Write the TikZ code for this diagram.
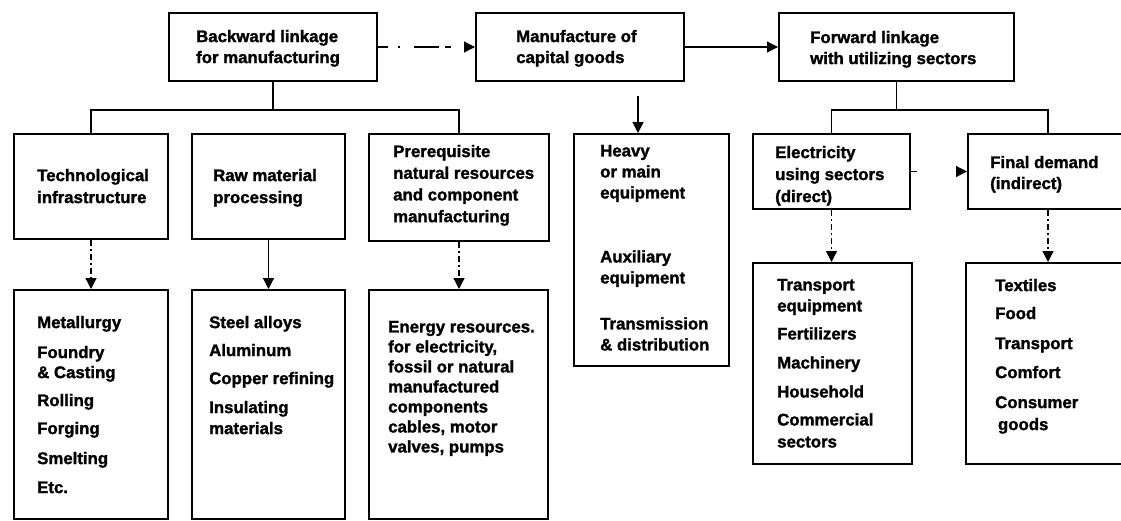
\documentclass[tikz,border=0pt]{standalone}
\usepackage{fontspec}
\setmainfont{Liberation Sans}[BoldFeatures={FakeBold=1.5}]
\usetikzlibrary{arrows.meta,calc}
\begin{document}
\begin{tikzpicture}[x=1pt,y=-1pt,
  box/.style={draw, line width=2pt, inner sep=0pt, anchor=north west},
  txt/.style={anchor=north west, inner sep=0pt, align=left, font=\fontsize{16.8}{21}\selectfont\bfseries},
  tip/.style={-{Triangle[length=11pt,width=11pt]}},
  conn/.style={line width=1.2pt},
  dsh/.style={conn, dash pattern=on 6pt off 3pt on 2pt off 3pt},
  dashdotted/.style={conn, dash pattern=on 10pt off 10pt on 2pt off 14pt on 25pt off 6pt on 6pt off 50pt},
  faint/.style={conn, dash pattern=on 6pt off 100pt}
]
\clip (0,0) rectangle (1121,520);
\fill[white] (0,0) rectangle (1121,520);

% top row
\node[box, minimum width=208pt, minimum height=68pt] (bw) at (168,12) {};
\node[box, minimum width=208pt, minimum height=68pt] (mf) at (475,12) {};
\node[box, minimum width=235pt, minimum height=68pt] (fw) at (778,12) {};
\node[txt] (bwt) at (196,29.7) {Backward linkage\\for manufacturing};
\node[txt] (mft) at (516,29.7) {Manufacture of\\capital goods};
\node[txt] (fwt) at (810,30.7) {Forward linkage\\with utilizing sectors};

% second row
\node[box, minimum width=154pt, minimum height=105pt] (tech) at (13,133) {};
\node[box, minimum width=153pt, minimum height=105pt] (raw) at (191,133) {};
\node[box, minimum width=180pt, minimum height=107pt] (pre) at (368,133) {};
\node[box, minimum width=155pt, minimum height=232pt] (heavy) at (573,133) {};
\node[box, minimum width=157pt, minimum height=75pt] (elec) at (752,133) {};
\node[box, minimum width=170pt, minimum height=75pt] (fin) at (967,133) {};

\node[txt] (techt) at (37,168.7) {Technological\\[1pt]infrastructure};
\node[txt] (rawt) at (213,168.7) {Raw material\\[1pt]processing};
\node[txt] (pret) at (393,144.7) {Prerequisite\\[0.7pt]natural resources\\[0.7pt]and component\\[0.7pt]manufacturing};
\node[txt] (heavyt) at (600,144.7) {Heavy\\or main\\equipment\\[43pt]Auxiliary\\equipment\\[25pt]Transmission\\\& distribution};
\node[txt] (elect) at (775,145.7) {Electricity\\[1pt]using sectors\\[1pt](direct)};
\node[txt] (fint) at (990,155.7) {Final demand\\(indirect)};

% third row
\node[box, minimum width=154pt, minimum height=229pt] (met) at (13,289) {};
\node[box, minimum width=153pt, minimum height=229pt] (steel) at (191,289) {};
\node[box, minimum width=179pt, minimum height=229pt] (energy) at (368,289) {};
\node[box, minimum width=159pt, minimum height=201pt] (trans) at (752,262) {};
\node[box, minimum width=170pt, minimum height=201pt] (tex) at (965,262) {};

\node[txt] (mett) at (37,315.7) {Metallurgy\\[9pt]Foundry\\[-1pt]\& Casting\\[7pt]Rolling\\[7pt]Forging\\[9pt]Smelting\\[8pt]Etc.};
\node[txt] (steelt) at (209,315.7) {Steel alloys\\[7pt]Aluminum\\[7pt]Copper refining\\[8pt]Insulating\\materials};
\node[txt] (energyt) at (388,320.7) {Energy resources.\\[-1pt]for electricity,\\[-1pt]fossil or natural\\[-1pt]manufactured\\[-1pt]components\\[-1pt]cables, motor\\[-1pt]valves, pumps};
\node[txt] (transt) at (777,278.7) {Transport\\equipment\\[7pt]Fertilizers\\[8pt]Machinery\\[8pt]Household\\[7pt]Commercial\\[1pt]sectors};
\node[txt] (text) at (995,278.7) {Textiles\\[7pt]Food\\[9pt]Transport\\[8pt]Comfort\\[9pt]Consumer\\[1pt]\,goods};

% connectors: top row
\draw[dashdotted, tip] (bw.east) -- (mf.west);
\draw[conn, tip] (mf.east) -- (fw.west);

% backward linkage bus
\coordinate (bbus) at (0,110);
\draw[conn] (bw.south) -- (bw.south |- bbus);
\draw[conn] (tech.north) -- (tech.north |- bbus) -- (pre.north |- bbus) -- (pre.north);

% manufacture to heavy equipment
\coordinate (mfa) at (638,96);
\draw[conn, tip] (mfa) -- (mfa |- heavy.north);

% forward linkage bus
\coordinate (fbus) at (0,110);
\coordinate (finx) at (1048,0);
\draw[conn] (fw.south) -- (fw.south |- fbus);
\draw[conn] (elec.north) -- (elec.north |- fbus) -- (finx |- fbus) -- (finx |- fin.north);

% electricity to final demand
\draw[faint, tip] (elec.east) -- (fin.west);

% second to third row
\draw[dsh, tip] (tech.south) -- (met.north);
\draw[conn, tip] (raw.south) -- (steel.north);
\draw[dsh, tip] (pre.south) -- (pre.south |- energy.north);
\draw[dsh, tip] (elec.south) -- (elec.south |- trans.north);
\draw[dsh, tip] (finx |- fin.south) -- (finx |- tex.north);
\end{tikzpicture}
\end{document}
